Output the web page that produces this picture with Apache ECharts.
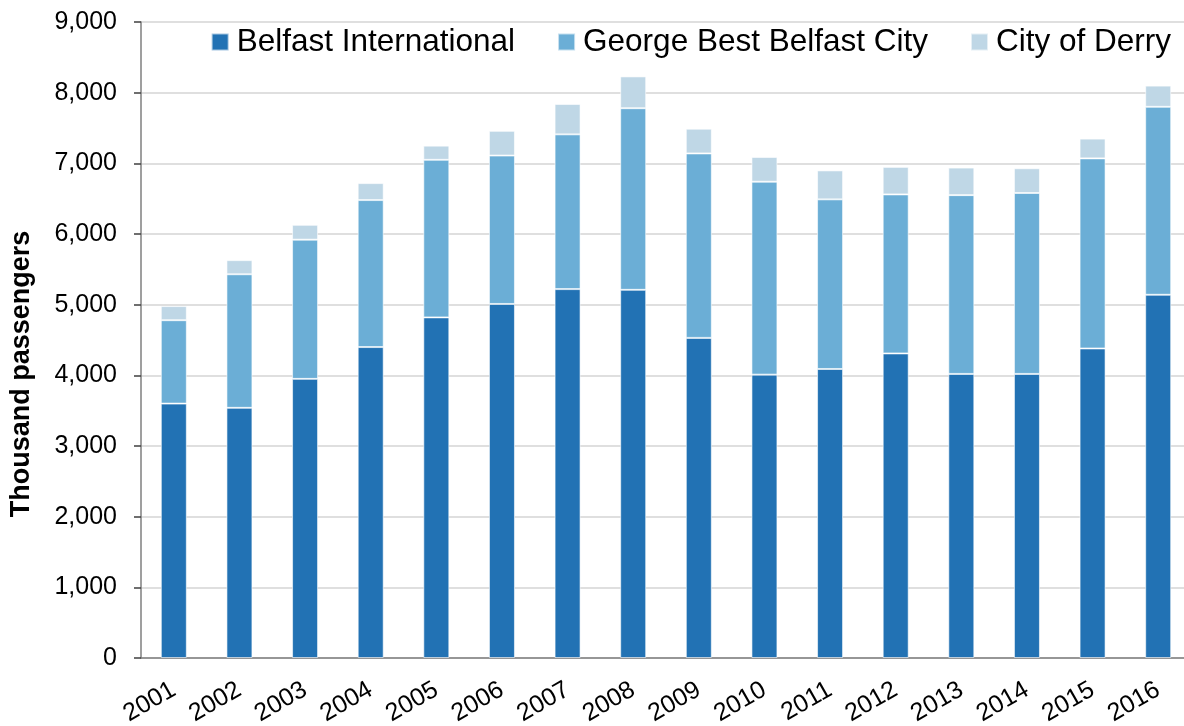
<!DOCTYPE html>
<html>
<head>
<meta charset="utf-8">
<title>Northern Ireland airport passengers</title>
<script src="https://cdn.jsdelivr.net/npm/echarts@6/dist/echarts.min.js"></script>
<style>
  html, body { margin: 0; padding: 0; background: #fff; }
  #chart { width: 1184px; height: 726px; }
</style>
</head>
<body>
<div id="chart"></div>
<script>
// data (thousand passengers)
var years = ['2001', '2002', '2003', '2004', '2005', '2006', '2007', '2008',
             '2009', '2010', '2011', '2012', '2013', '2014', '2015', '2016'];
var belfastIntl = [3600, 3540, 3950, 4400, 4820, 5010, 5220, 5210, 4530, 4010, 4090, 4310, 4020, 4020, 4380, 5140];
var georgeBest  = [1180, 1890, 1970, 2080, 2230, 2100, 2190, 2570, 2610, 2730, 2400, 2250, 2530, 2560, 2690, 2660];
var cityDerry   = [200, 200, 210, 240, 200, 350, 430, 450, 350, 350, 410, 390, 390, 350, 280, 300];
var seriesNames = ['Belfast International', 'George Best Belfast City', 'City of Derry'];
var colours = ['#2272b4', '#6baed6', '#bfd7e6'];

var font = 'Arial, "Liberation Sans", sans-serif';

//一个柱子的配置
function barSeries(name, data, colour) {
    return {
        name: name,
        type: 'bar',
        stack: 'total',
        barWidth: 26,
        data: data,
        itemStyle: {
            color: colour,
            borderColor: 'rgba(255,255,255,0.6)',
            borderWidth: 1
        }
    };
}

var myChart = echarts.init(document.getElementById('chart'));
myChart.setOption({
    animation: false,
    textStyle: { fontFamily: font },
    grid: { left: 141, top: 22, width: 1050, height: 636, outerBoundsMode: 'none' },
    legend: {
        data: seriesNames,
        right: 13,
        top: 26,
        padding: 0,
        icon: 'rect',
        itemWidth: 17,
        itemHeight: 17,
        itemGap: 42,
        textStyle: { fontSize: 31.5, color: '#000', fontFamily: font, padding: [0, 0, 0, 3] }
    },
    xAxis: {
        type: 'category',
        data: years,
        axisLine: { lineStyle: { color: '#7f7f7f', width: 1.5 } },
        axisTick: { length: 7, lineStyle: { color: '#404040', width: 1.5 } },
        axisLabel: { rotate: 30, fontSize: 25, color: '#000', margin: 30, fontFamily: font }
    },
    yAxis: {
        type: 'value',
        min: 0,
        max: 9000,
        interval: 1000,
        name: 'Thousand passengers',
        nameLocation: 'middle',
        nameGap: 106,
        nameTextStyle: {
            fontSize: 27, fontWeight: 'bold', color: '#000', fontFamily: font,
            padding: [0, 68, 0, 0]
        },
        axisLine: { show: true, lineStyle: { color: '#7f7f7f', width: 1.5 } },
        axisTick: { show: true, length: 7, lineStyle: { color: '#404040', width: 1.5 } },
        axisLabel: {
            fontSize: 25,
            color: '#000',
            margin: 24,
            fontFamily: font,
            formatter: function (v) { return v.toLocaleString('en-GB'); }
        },
        splitLine: { lineStyle: { color: '#d4d4d4', width: 1.5 } }
    },
    series: [
        barSeries(seriesNames[0], belfastIntl, colours[0]),
        barSeries(seriesNames[1], georgeBest, colours[1]),
        barSeries(seriesNames[2], cityDerry, colours[2])
    ]
});
</script>
</body>
</html>
